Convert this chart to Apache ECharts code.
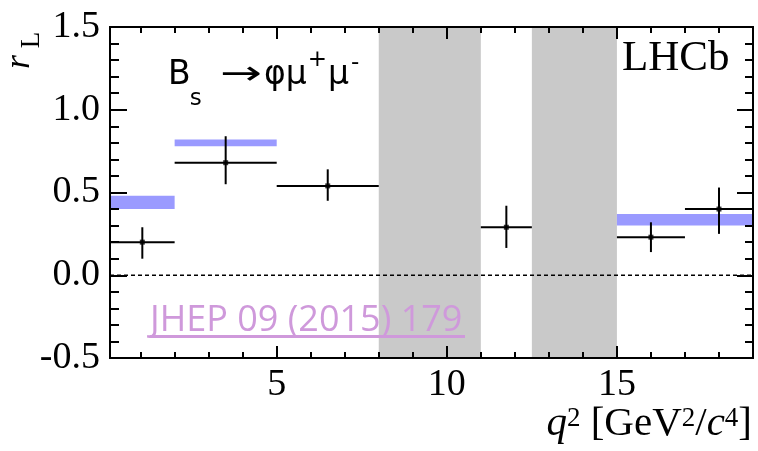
<!DOCTYPE html>
<html>
<head>
<meta charset="utf-8">
<script src="https://cdn.jsdelivr.net/npm/echarts@6/dist/echarts.min.js"></script>
<style>
html, body { margin: 0; padding: 0; background: #fff; }
#chart { width: 758px; height: 451px; }
</style>
</head>
<body>
<div id="chart"></div>
<script>
// Measured r_L in bins of q^2 [GeV^2/c^4]
const binLo     = [0.1, 2.0, 5.0, 11.0, 15.0, 17.0];
const binHi     = [2.0, 5.0, 8.0, 12.5, 17.0, 19.0];
const binCenter = [1.05, 3.5, 6.5, 11.75, 16.0, 18.0];
const rL        = [0.20, 0.68, 0.54, 0.29, 0.23, 0.40];
const errUp     = [0.09, 0.16, 0.10, 0.13, 0.09, 0.13];
const errDown   = [0.10, 0.13, 0.09, 0.125, 0.09, 0.15];

// SM prediction bands
const smLo  = [0.1, 2.0, 15.0];
const smHi  = [2.0, 5.0, 19.0];
const smMin = [0.40, 0.78, 0.30];
const smMax = [0.48, 0.82, 0.37];

// Vetoed charmonium regions
const vetoLo = [8.0, 12.5];
const vetoHi = [11.0, 15.0];

// Axis ticks
const xMajorTicks = [5, 10, 15];
const xMinorTicks = [1, 2, 3, 4, 6, 7, 8, 9, 11, 12, 13, 14, 16, 17, 18];
const X_MIN = 0.1, X_MAX = 19;
const Y_MIN = -0.5, Y_MAX = 1.5;

const SERIF = 'Liberation Serif';
const SANS = 'Open Sans';
const WIDE_SANS = 'DejaVu Sans';

const chart = echarts.init(document.getElementById('chart'));

function xAxisDef(gridIndex, position, ticks, len, labels) {
  return {
    type: 'value', gridIndex: gridIndex, position: position, min: X_MIN, max: X_MAX, z: 10,
    axisLine: { show: true, onZero: false, lineStyle: { color: '#000', width: 2 } },
    axisTick: { show: true, inside: true, length: len, customValues: ticks, lineStyle: { color: '#000', width: 2 } },
    axisLabel: labels ? {
      show: true, customValues: ticks, margin: 8, color: '#000',
      fontFamily: SERIF, fontSize: 38
    } : { show: false },
    splitLine: { show: false }
  };
}

function yAxisDef(gridIndex, position, labels, major, minor) {
  return {
    type: 'value', gridIndex: gridIndex, position: position, min: Y_MIN, max: Y_MAX, interval: 0.5, z: 10,
    axisLine: { show: true, onZero: false, lineStyle: { color: '#000', width: 2 } },
    axisTick: { show: true, inside: true, length: major, lineStyle: { color: '#000', width: 2 } },
    minorTick: { show: true, splitNumber: 5, length: minor, lineStyle: { color: '#000', width: 2 } },
    axisLabel: labels ? {
      show: true, margin: 10, color: '#000', fontFamily: SERIF, fontSize: 38,
      formatter: v => v.toFixed(1)
    } : { show: false },
    splitLine: { show: false }
  };
}

// Error bars: one horizontal (bin width) and one vertical (uncertainty) segment per bin
const segStyle = { color: '#000', width: 2 };
const errSeries = [];
binLo.forEach((lo, i) => {
  errSeries.push({
    type: 'line', xAxisIndex: 0, yAxisIndex: 0, z: 4, silent: true,
    symbol: 'none', lineStyle: segStyle,
    data: [[lo, rL[i]], [binHi[i], rL[i]]]
  });
  errSeries.push({
    type: 'line', xAxisIndex: 0, yAxisIndex: 0, z: 4, silent: true,
    symbol: 'none', lineStyle: segStyle,
    data: [[binCenter[i], rL[i] - errDown[i]], [binCenter[i], rL[i] + errUp[i]]]
  });
});

// Shaded regions: vetoed q^2 windows and SM predictions
const areaData = vetoLo.map((lo, i) => [
  { xAxis: lo, yAxis: Y_MIN, itemStyle: { color: '#c9c9c9', opacity: 1 } },
  { xAxis: vetoHi[i], yAxis: Y_MAX }
]).concat(smLo.map((lo, i) => [
  { xAxis: lo, yAxis: smMin[i], itemStyle: { color: '#9a9aff', opacity: 1 } },
  { xAxis: smHi[i], yAxis: smMax[i] }
]));

// Text helpers for the decay label
const measureCtx = document.createElement('canvas').getContext('2d');
function textWidth(text, size, family) {
  measureCtx.font = size + 'px "' + family + '"';
  return measureCtx.measureText(text).width;
}
function textEl(text, x, yMid, size, family, extra) {
  return Object.assign({
    type: 'text', z: 100, x: x, y: yMid,
    style: { text: text, fontFamily: family, fontSize: size, fill: '#000', align: 'left', verticalAlign: 'middle' }
  }, extra || {});
}

// B_s -> phi mu+ mu-
const bigSize = 33, smallSize = 23;
const mainMid = 86.7 - 0.346 * bigSize;
const subMid = 106.7 - 0.346 * smallSize;
const supMid = 60;
const decayEls = [];
let cx = 168;
decayEls.push(textEl('B', cx, mainMid, bigSize, WIDE_SANS));
cx += textWidth('B', bigSize, WIDE_SANS) - 1;
decayEls.push(textEl('s', cx, subMid, smallSize, WIDE_SANS));
const arrowW = textWidth('→', bigSize, WIDE_SANS);
decayEls.push(textEl('→', 220, mainMid, bigSize, WIDE_SANS, { scaleX: 42 / arrowW }));
cx = 264;
decayEls.push(textEl('φμ', cx, mainMid, bigSize, WIDE_SANS));
cx += textWidth('φμ', bigSize, WIDE_SANS) + 1;
decayEls.push(textEl('+', cx, supMid, smallSize, WIDE_SANS));
cx += textWidth('+', smallSize, WIDE_SANS) + 1;
decayEls.push(textEl('μ', cx, mainMid, bigSize, WIDE_SANS));
cx += textWidth('μ', bigSize, WIDE_SANS) + 2;
decayEls.push(textEl('-', cx, supMid + 3, smallSize, WIDE_SANS));

const option = {
  animation: false,
  grid: [
    { left: 110, top: 27, width: 643, height: 331 },
    { left: 110, top: 27, width: 643, height: 331 }
  ],
  xAxis: [
    xAxisDef(0, 'bottom', xMajorTicks, 12, true),
    xAxisDef(0, 'bottom', xMinorTicks, 6, false),
    xAxisDef(1, 'top', xMajorTicks, 12, false),
    xAxisDef(1, 'top', xMinorTicks, 6, false)
  ],
  yAxis: [
    yAxisDef(0, 'left', true, 17, 9),
    yAxisDef(1, 'right', false, 16, 8)
  ],
  series: [
    {
      type: 'scatter', name: 'r_L', xAxisIndex: 0, yAxisIndex: 0, z: 5, silent: true,
      symbol: 'rect', symbolSize: 5, itemStyle: { color: '#000' },
      data: binCenter.map((x, i) => [x, rL[i]]),
      markArea: { silent: true, z: 1, label: { show: false }, data: areaData }
    },
    {
      type: 'line', name: 'zero', xAxisIndex: 2, yAxisIndex: 1, z: 3, silent: true,
      symbol: 'none', lineStyle: { color: '#000', width: 1.5, type: [4, 3] },
      data: [[X_MIN, 0], [X_MAX, 0]]
    }
  ].concat(errSeries),
  graphic: decayEls.concat([
    {
      type: 'text', z: 100, x: 20, y: 62, rotation: Math.PI / 2,
      style: { text: 'r', fontFamily: SERIF, fontStyle: 'italic', fontSize: 36, fill: '#000', align: 'center', verticalAlign: 'middle' }
    },
    {
      type: 'text', z: 100, x: 32, y: 40, rotation: Math.PI / 2,
      style: { text: 'L', fontFamily: SERIF, fontSize: 27, fill: '#000', align: 'center', verticalAlign: 'middle' }
    },
    {
      type: 'text', z: 100, x: 622, y: 59,
      style: { text: 'LHCb', fontFamily: SERIF, fontSize: 43, fill: '#000', align: 'left', verticalAlign: 'middle' }
    },
    {
      type: 'text', z: 100, x: 150, y: 321,
      style: { text: 'JHEP 09 (2015) 179', fontFamily: SANS, fontSize: 36, fill: '#cf99db', align: 'left', verticalAlign: 'middle' }
    },
    {
      type: 'line', z: 100,
      shape: { x1: 150, y1: 336.5, x2: 465, y2: 336.5 },
      style: { stroke: '#cf99db', lineWidth: 3 }
    },
    {
      type: 'text', z: 100, x: 752, y: 445,
      style: {
        text: '{i|q}{p|2}{n| [GeV}{p|2}{n|/}{i|c}{p|4}{n|]}',
        align: 'right', verticalAlign: 'bottom',
        rich: {
          i: { fontFamily: SERIF, fontStyle: 'italic', fontSize: 41, color: '#000', lineHeight: 40, verticalAlign: 'bottom' },
          n: { fontFamily: SERIF, fontSize: 41, color: '#000', lineHeight: 40, verticalAlign: 'bottom' },
          p: { fontFamily: SERIF, fontSize: 27, color: '#000', lineHeight: 26, verticalAlign: 'top' }
        }
      }
    }
  ])
};

chart.setOption(option);
</script>
</body>
</html>
